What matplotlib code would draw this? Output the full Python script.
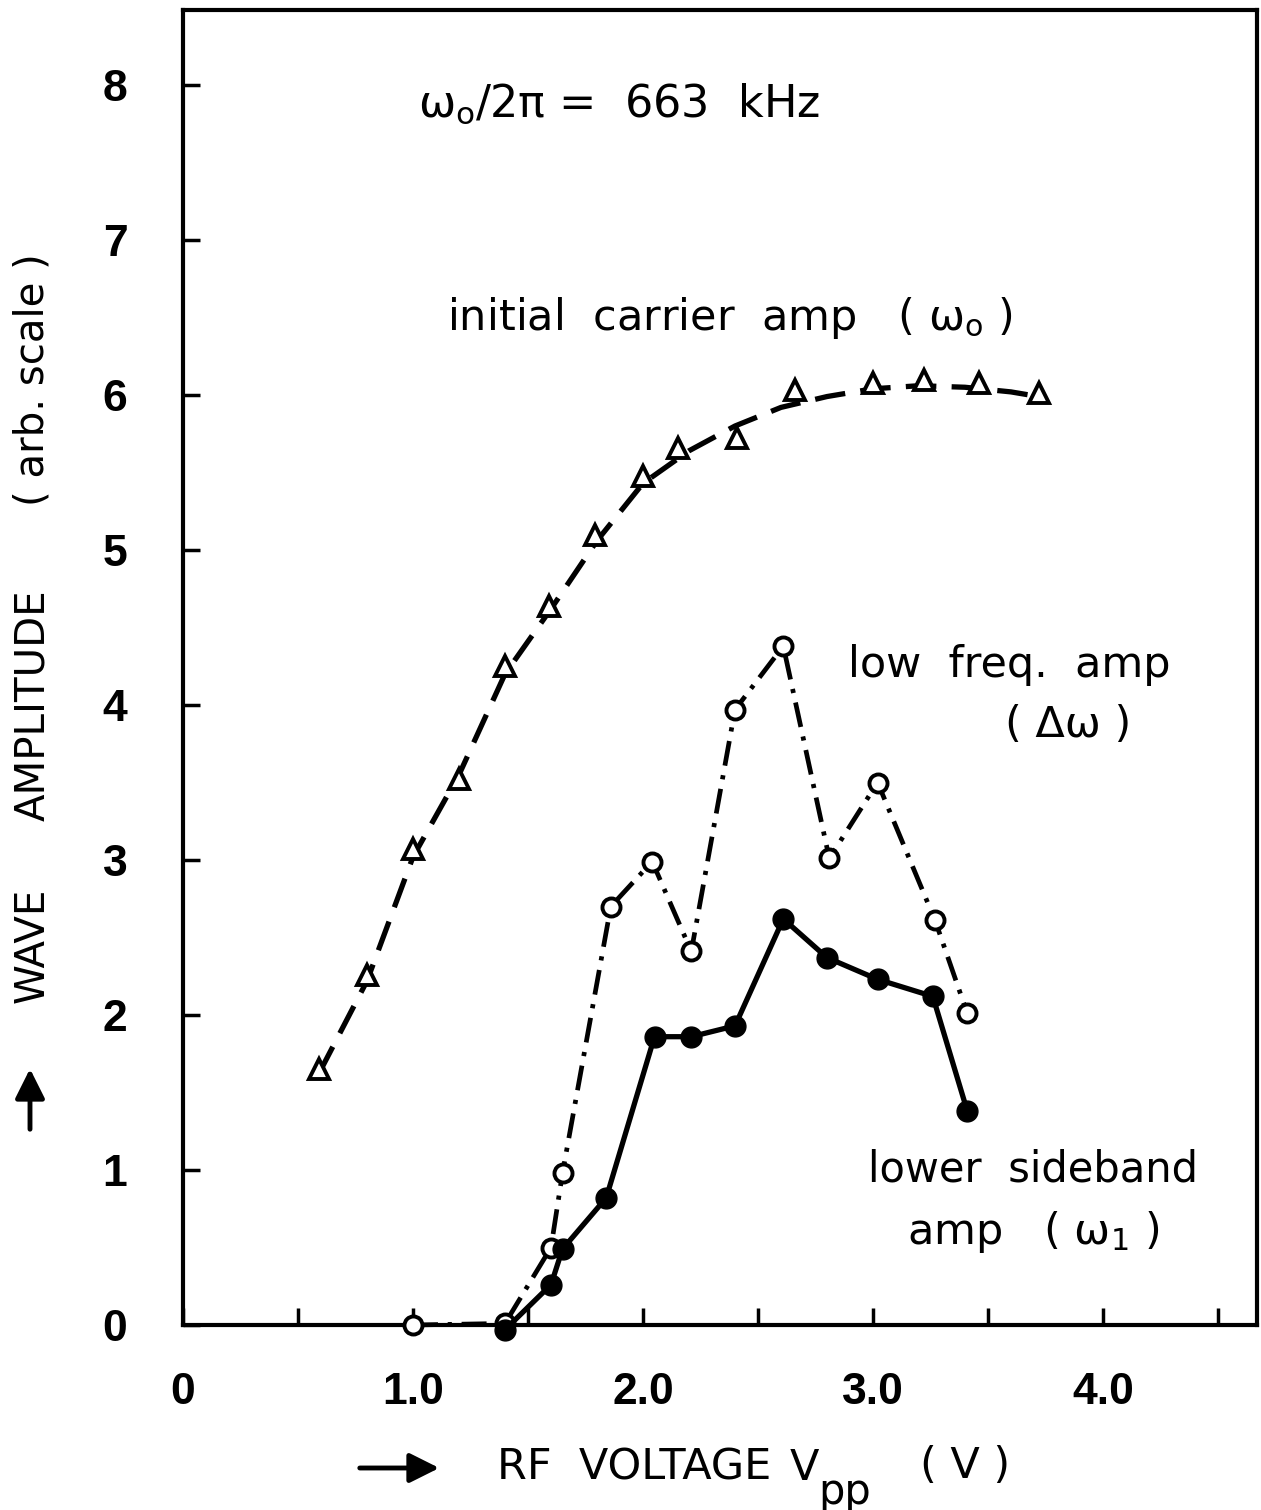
import matplotlib
matplotlib.use("Agg")
import matplotlib.pyplot as plt
from matplotlib.ticker import MultipleLocator, FixedLocator, FixedFormatter

plt.rcParams['lines.scale_dashes'] = False
plt.rcParams['mathtext.fontset'] = 'dejavusans'
plt.rcParams['font.family'] = ['DejaVu Sans']

# ---------------- data ----------------
carrier_x = [0.59, 0.80, 1.00, 1.20, 1.40, 1.59, 1.79, 2.00, 2.15, 2.41, 2.66, 3.00, 3.22, 3.46, 3.72]
carrier_y = [1.65, 2.26, 3.07, 3.52, 4.25, 4.64, 5.10, 5.48, 5.66, 5.72, 6.03, 6.08, 6.10, 6.08, 6.01]

# hand-drawn smooth curve through the carrier points
curve_x = [0.59, 0.80, 1.00, 1.20, 1.40, 1.60, 1.80, 2.00, 2.20, 2.40, 2.60, 2.80, 3.00, 3.20, 3.40, 3.60, 3.72]
curve_y = [1.62, 2.22, 3.02, 3.55, 4.20, 4.62, 5.06, 5.43, 5.64, 5.80, 5.92, 5.99, 6.04, 6.06, 6.05, 6.02, 5.99]

lowfreq_x = [1.00, 1.40, 1.60, 1.65, 1.86, 2.04, 2.21, 2.40, 2.61, 2.81, 3.02, 3.27, 3.41]
lowfreq_y = [0.00, 0.01, 0.50, 0.98, 2.70, 2.99, 2.41, 3.97, 4.38, 3.01, 3.50, 2.61, 2.01]

sideband_x = [1.40, 1.60, 1.65, 1.84, 2.05, 2.21, 2.40, 2.61, 2.80, 3.02, 3.26, 3.41]
sideband_y = [-0.03, 0.26, 0.49, 0.82, 1.86, 1.86, 1.93, 2.62, 2.37, 2.23, 2.12, 1.38]

x_ticks = [0, 1, 2, 3, 4]
x_ticklabels = ['0', '1.0', '2.0', '3.0', '4.0']
y_ticks = [0, 1, 2, 3, 4, 5, 6, 7, 8]
y_ticklabels = ['0', '1', '2', '3', '4', '5', '6', '7', '8']

# ---------------- figure ----------------
W, H = 1261, 1510
fig = plt.figure(figsize=(W / 100, H / 100), dpi=100)
fig.patch.set_facecolor('white')
L, R, B, T = 183, 1257, 1325, 10
ax = fig.add_axes([L / W, (H - B) / H, (R - L) / W, (B - T) / H])
ax.set_xlim(0, (R - L) / 230.0)
ax.set_ylim(0, (B - T) / 155.0)

for s in ax.spines.values():
    s.set_linewidth(3)

ax.plot(curve_x, curve_y, color='k', lw=3.8, linestyle=(0, (22, 11)), zorder=2)
ax.plot(carrier_x, carrier_y, linestyle='none', marker='^', ms=15, mfc='white',
        mec='k', mew=2.8, zorder=3, clip_on=False)

ax.plot(lowfreq_x, lowfreq_y, color='k', lw=3.4, linestyle=(0, (18, 7, 3, 7)),
        marker='o', ms=13, mfc='white', mec='k', mew=2.8, zorder=3, clip_on=False)

ax.plot(sideband_x, sideband_y, color='k', lw=3.8, linestyle='-',
        marker='o', ms=15, mfc='k', mec='k', zorder=4, clip_on=False)

ax.xaxis.set_major_locator(FixedLocator(x_ticks))
ax.xaxis.set_major_formatter(FixedFormatter(x_ticklabels))
ax.xaxis.set_minor_locator(MultipleLocator(0.5))
ax.yaxis.set_major_locator(FixedLocator(y_ticks))
ax.yaxis.set_major_formatter(FixedFormatter(y_ticklabels))
ax.tick_params(which='both', direction='in', length=12, width=2.5)
ax.tick_params(axis='x', pad=34)
ax.tick_params(axis='y', pad=40)
for lab in ax.get_xticklabels():
    lab.set_fontfamily(['Liberation Sans', 'DejaVu Sans'])
    lab.set_fontsize(32)
    lab.set_fontweight('bold')
for lab in ax.get_yticklabels():
    lab.set_fontfamily(['Liberation Sans', 'DejaVu Sans'])
    lab.set_fontsize(32)
    lab.set_fontweight('bold')

# ---------------- annotations ----------------
def dx(px):
    return (px - L) / 230.0

def dy(py):
    return (B - py) / 155.0

FS = 31
ax.text(dx(418), dy(104), 'ω$_\\mathrm{o}$/2π =  663  kHz', fontsize=32, ha='left', va='center')
ax.text(dx(447), dy(318), 'initial  carrier  amp   ( ω$_\\mathrm{o}$ )', fontsize=FS, ha='left', va='center')
ax.text(dx(848), dy(665), 'low  freq.  amp', fontsize=FS, ha='left', va='center')
ax.text(dx(1005), dy(725), '( Δω )', fontsize=FS, ha='left', va='center')
ax.text(dx(868), dy(1170), 'lower  sideband', fontsize=30, ha='left', va='center')
ax.text(dx(907), dy(1232), 'amp   ( ω$_\\mathrm{1}$ )', fontsize=FS, ha='left', va='center')

def fx(px):
    return px / W

def fy(py):
    return 1 - py / H

# y label pieces
fig.add_artist(matplotlib.patches.FancyArrowPatch((fx(30), fy(1132)), (fx(30), fy(1066)),
               transform=fig.transFigure, arrowstyle='-|>,head_length=0.9,head_width=0.45',
               mutation_scale=20, lw=3.5, color='k'))
fig.text(fx(33), fy(945), 'WAVE', rotation=90, fontsize=29, ha='center', va='center')
fig.text(fx(33), fy(705), 'AMPLITUDE', rotation=90, fontsize=29, ha='center', va='center')
fig.text(fx(33), fy(380), '( arb. scale )', rotation=90, fontsize=29, ha='center', va='center')

# x label pieces
fig.add_artist(matplotlib.patches.FancyArrowPatch((fx(357), fy(1468)), (fx(442), fy(1468)),
               transform=fig.transFigure, arrowstyle='-|>,head_length=0.9,head_width=0.45',
               mutation_scale=20, lw=3.5, color='k'))
fig.text(fx(497), fy(1468), 'RF  VOLTAGE', fontsize=31, ha='left', va='center')
fig.text(fx(790), fy(1468), 'V', fontsize=31, ha='left', va='center')
fig.text(fx(818), fy(1492), 'pp', fontsize=30, ha='left', va='center')
fig.text(fx(920), fy(1466), '( V )', fontsize=31, ha='left', va='center')

fig.savefig('out.png', dpi=100, facecolor='white')
